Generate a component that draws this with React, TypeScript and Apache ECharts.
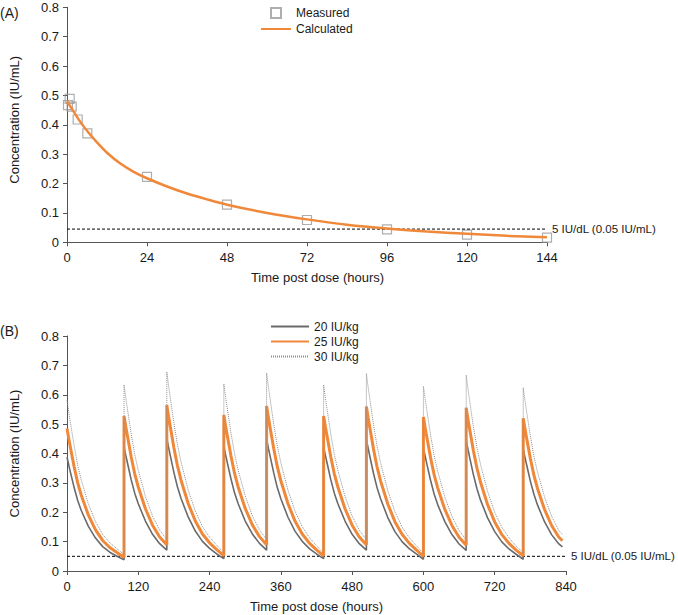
import React, { useEffect, useRef } from "react";
import * as echarts from "echarts";

// ---------- Panel A data ----------
const measuredTimes = [0.3, 0.8, 1.4, 3.2, 6.1, 24, 48, 72, 96, 120, 144];
const measuredValues = [0.467, 0.488, 0.462, 0.418, 0.371, 0.223, 0.128, 0.076, 0.044, 0.026, 0.016];
const calcTimes = [0, 2, 4, 6, 9, 12, 16, 20, 24, 30, 36, 42, 48, 60, 72, 84, 96, 108, 120, 132, 144];
const calcValues = [0.48, 0.445, 0.41, 0.38, 0.34, 0.305, 0.268, 0.24, 0.218, 0.19, 0.166, 0.146, 0.128, 0.1, 0.078, 0.06, 0.047, 0.037, 0.029, 0.022, 0.017];
const thresholdA = 0.045;
const xTicksA = { min: 0, max: 144, interval: 24 };

// ---------- Panel B data ----------
const doseTimes = [0, 96, 168, 264, 336, 432, 504, 600, 672, 768];
const sampleOffsets = [0, 3, 6, 12, 18, 24, 36, 48, 60, 72, 84, 96];
const lastSampleOffsets = [0, 3, 6, 12, 18, 24, 36, 48, 60, 66];

const seg20 = [
  [0.388, 0.36, 0.334, 0.284, 0.24, 0.206, 0.152, 0.112, 0.083, 0.064, 0.05, 0.038],
  [0.422, 0.393, 0.366, 0.311, 0.265, 0.229, 0.17, 0.125, 0.093, 0.071],
  [0.452, 0.421, 0.392, 0.335, 0.286, 0.247, 0.184, 0.136, 0.101, 0.077, 0.058, 0.042],
  [0.425, 0.395, 0.367, 0.314, 0.266, 0.23, 0.17, 0.126, 0.094, 0.071],
  [0.45, 0.418, 0.39, 0.334, 0.284, 0.246, 0.183, 0.135, 0.101, 0.076, 0.058, 0.042],
  [0.422, 0.393, 0.366, 0.311, 0.265, 0.229, 0.17, 0.125, 0.093, 0.071],
  [0.448, 0.417, 0.388, 0.332, 0.283, 0.245, 0.182, 0.134, 0.1, 0.076, 0.058, 0.04],
  [0.419, 0.39, 0.362, 0.309, 0.262, 0.226, 0.168, 0.124, 0.092, 0.07],
  [0.445, 0.414, 0.385, 0.329, 0.281, 0.242, 0.181, 0.134, 0.099, 0.075, 0.057, 0.04],
  [0.416, 0.386, 0.359, 0.306, 0.261, 0.225, 0.167, 0.123, 0.092, 0.082],
];
const seg25 = [
  [0.485, 0.45, 0.418, 0.355, 0.3, 0.258, 0.19, 0.14, 0.104, 0.08, 0.063, 0.047],
  [0.528, 0.491, 0.457, 0.389, 0.331, 0.286, 0.212, 0.156, 0.116, 0.089],
  [0.565, 0.526, 0.49, 0.419, 0.358, 0.309, 0.23, 0.17, 0.126, 0.096, 0.073, 0.052],
  [0.531, 0.494, 0.459, 0.392, 0.333, 0.287, 0.213, 0.157, 0.117, 0.089],
  [0.562, 0.523, 0.487, 0.417, 0.355, 0.307, 0.229, 0.169, 0.126, 0.095, 0.072, 0.052],
  [0.528, 0.491, 0.457, 0.389, 0.331, 0.286, 0.212, 0.156, 0.116, 0.089],
  [0.56, 0.521, 0.485, 0.415, 0.354, 0.306, 0.228, 0.168, 0.125, 0.095, 0.072, 0.05],
  [0.524, 0.487, 0.453, 0.386, 0.328, 0.283, 0.21, 0.155, 0.115, 0.088],
  [0.556, 0.517, 0.481, 0.411, 0.351, 0.303, 0.226, 0.167, 0.124, 0.094, 0.071, 0.052],
  [0.52, 0.483, 0.449, 0.383, 0.326, 0.281, 0.209, 0.154, 0.115, 0.103],
];
const seg30 = [
  [0.582, 0.54, 0.502, 0.426, 0.36, 0.31, 0.228, 0.168, 0.125, 0.096, 0.076, 0.056],
  [0.634, 0.589, 0.548, 0.467, 0.397, 0.343, 0.254, 0.187, 0.139, 0.107],
  [0.678, 0.631, 0.588, 0.503, 0.43, 0.371, 0.276, 0.204, 0.151, 0.115, 0.088, 0.062],
  [0.637, 0.593, 0.551, 0.47, 0.4, 0.344, 0.256, 0.188, 0.14, 0.107],
  [0.674, 0.628, 0.584, 0.5, 0.426, 0.368, 0.275, 0.203, 0.151, 0.114, 0.086, 0.062],
  [0.634, 0.589, 0.548, 0.467, 0.397, 0.343, 0.254, 0.187, 0.139, 0.107],
  [0.672, 0.625, 0.582, 0.498, 0.425, 0.367, 0.274, 0.202, 0.15, 0.114, 0.086, 0.06],
  [0.629, 0.584, 0.544, 0.463, 0.394, 0.34, 0.252, 0.186, 0.138, 0.106],
  [0.667, 0.62, 0.577, 0.493, 0.421, 0.364, 0.271, 0.2, 0.149, 0.113, 0.085, 0.062],
  [0.624, 0.58, 0.539, 0.46, 0.391, 0.337, 0.251, 0.185, 0.138, 0.124],
];
const thresholdB = 0.05;
const xTicksB = { min: 0, max: 840, interval: 120 };
const yTicks = { min: 0, max: 0.8, interval: 0.1 };

const thresholdLabel = "5 IU/dL (0.05 IU/mL)";
const doseNames = ["20 IU/kg", "25 IU/kg", "30 IU/kg"];

const FONT = "'Liberation Sans', Arial, Helvetica, sans-serif";
const ORANGE = "#F0883A";
const GRAY20 = "#6a6a6a";
const GRAY30 = "#8e8e8e";
const TEXT = "#1a1a1a";
const AXIS = "#555555";

function buildProfile(segs: number[][]): number[][] {
  const out: number[][] = [];
  segs.forEach((seg, i) => {
    const offs = i === segs.length - 1 ? lastSampleOffsets : sampleOffsets;
    seg.forEach((v, j) => out.push([doseTimes[i] + offs[j], v]));
  });
  return out;
}

const hideSymbol = { opacity: 0 };

export default function App() {
  const ref = useRef<HTMLDivElement>(null);
  useEffect(() => {
    if (!ref.current) return;
    const chart = echarts.init(ref.current, undefined, { renderer: "svg" });

    const axisCommon = {
      axisLine: { lineStyle: { color: AXIS, width: 1 } },
      axisTick: { show: true, length: 4, lineStyle: { color: AXIS } },
      splitLine: { show: false },
      axisLabel: { color: TEXT, fontSize: 13, fontFamily: FONT },
      nameTextStyle: { color: TEXT, fontSize: 13, fontFamily: FONT },
    };

    const thresholdEndLabel = {
      show: true,
      formatter: thresholdLabel,
      color: TEXT,
      fontSize: 11.5,
      fontFamily: FONT,
      distance: 5,
    };

    const option: any = {
      animation: false,
      textStyle: { fontFamily: FONT },
      grid: [
        { left: 62, top: 7.3, width: 485, height: 235 },
        { left: 62, top: 336, width: 504, height: 235 },
      ],
      xAxis: [
        {
          ...axisCommon,
          gridIndex: 0,
          type: "value",
          ...xTicksA,
          name: "Time post dose (hours)",
          nameLocation: "middle",
          nameGap: 29,
          nameTextStyle: { ...axisCommon.nameTextStyle, padding: [0, 0, 0, 21] },
          axisLabel: { ...axisCommon.axisLabel, margin: 9 },
        },
        {
          ...axisCommon,
          gridIndex: 1,
          type: "value",
          ...xTicksB,
          name: "Time post dose (hours)",
          nameLocation: "middle",
          nameGap: 29,
          axisLabel: { ...axisCommon.axisLabel, margin: 9 },
        },
      ],
      yAxis: [
        {
          ...axisCommon,
          gridIndex: 0,
          type: "value",
          ...yTicks,
          name: "Concentration (IU/mL)",
          nameLocation: "middle",
          nameGap: 46,
          nameTextStyle: { ...axisCommon.nameTextStyle, padding: [0, 0, 0, 10] },
        },
        {
          ...axisCommon,
          gridIndex: 1,
          type: "value",
          ...yTicks,
          name: "Concentration (IU/mL)",
          nameLocation: "middle",
          nameGap: 46,
        },
      ],
      legend: [
        {
          orient: "vertical",
          left: 260,
          top: 7,
          padding: 0,
          itemWidth: 30,
          itemHeight: 10,
          itemGap: 4,
          textStyle: { color: TEXT, fontSize: 12, fontFamily: FONT },
          data: [
            { name: "Measured", icon: "path://M0,0H10V10H0Z" },
            { name: "Calculated", itemStyle: hideSymbol },
          ],
        },
        {
          orient: "vertical",
          left: 270,
          top: 320.5,
          padding: 0,
          itemWidth: 38,
          itemHeight: 10,
          itemGap: 3,
          textStyle: { color: TEXT, fontSize: 12, fontFamily: FONT },
          data: doseNames.map((n) => ({ name: n, itemStyle: hideSymbol })),
        },
      ],
      graphic: [
        { type: "text", left: 0, top: 6, style: { text: "(A)", fontSize: 14, fontFamily: FONT, fill: TEXT } },
        { type: "text", left: 0, top: 324, style: { text: "(B)", fontSize: 14, fontFamily: FONT, fill: TEXT } },
      ],
      series: [
        {
          name: "threshold A",
          type: "line",
          xAxisIndex: 0,
          yAxisIndex: 0,
          data: [
            [xTicksA.min, thresholdA],
            [xTicksA.max, thresholdA],
          ],
          symbol: "none",
          lineStyle: { color: "#000", width: 1, type: [3, 2] },
          endLabel: thresholdEndLabel,
          silent: true,
        },
        {
          name: "Calculated",
          type: "line",
          xAxisIndex: 0,
          yAxisIndex: 0,
          data: calcTimes.map((t, i) => [t, calcValues[i]]),
          smooth: 0.3,
          symbol: "none",
          showSymbol: false,
          itemStyle: { color: ORANGE },
          lineStyle: { color: ORANGE, width: 2.5 },
        },
        {
          name: "Measured",
          type: "scatter",
          xAxisIndex: 0,
          yAxisIndex: 0,
          data: measuredTimes.map((t, i) => [t, measuredValues[i]]),
          symbol: "rect",
          symbolSize: 9,
          itemStyle: { color: "rgba(255,255,255,0)", borderColor: "#9a9a9a", borderWidth: 1.2 },
        },
        {
          name: "threshold B",
          type: "line",
          xAxisIndex: 1,
          yAxisIndex: 1,
          data: [
            [xTicksB.min, thresholdB],
            [xTicksB.max, thresholdB],
          ],
          symbol: "none",
          lineStyle: { color: "#000", width: 1, type: [3, 2] },
          endLabel: thresholdEndLabel,
          silent: true,
        },
        {
          name: doseNames[0],
          type: "line",
          xAxisIndex: 1,
          yAxisIndex: 1,
          data: buildProfile(seg20),
          symbol: "none",
          itemStyle: { color: GRAY20 },
          lineStyle: { color: GRAY20, width: 1.6 },
        },
        {
          name: doseNames[1],
          type: "line",
          xAxisIndex: 1,
          yAxisIndex: 1,
          data: buildProfile(seg25),
          symbol: "none",
          itemStyle: { color: ORANGE },
          lineStyle: { color: ORANGE, width: 3 },
        },
        {
          name: doseNames[2],
          type: "line",
          xAxisIndex: 1,
          yAxisIndex: 1,
          data: buildProfile(seg30),
          symbol: "none",
          itemStyle: { color: GRAY30 },
          lineStyle: { color: GRAY30, width: 1, type: [1, 1] },
        },
      ],
    };
    chart.setOption(option);
    return () => chart.dispose();
  }, []);

  return (
    <div
      ref={ref}
      style={{ position: "fixed", left: 0, top: 0, width: 678, height: 615, background: "#fff" }}
    />
  );
}
